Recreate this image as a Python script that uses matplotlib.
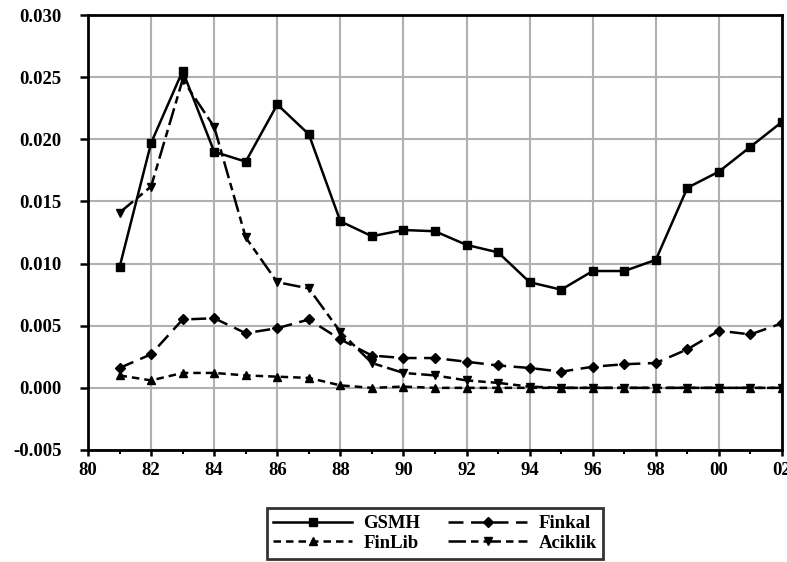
import numpy as np
import matplotlib as mpl
mpl.use('Agg')
import matplotlib.pyplot as plt
from matplotlib.ticker import MultipleLocator, FormatStrFormatter

# yearly series, 1981-2002
years = list(range(81, 103))
gsmh = [0.0097, 0.0197, 0.0255, 0.0190, 0.0182, 0.0228, 0.0204, 0.0134, 0.0122, 0.0127, 0.0126,
        0.0115, 0.0109, 0.0085, 0.0079, 0.0094, 0.0094, 0.0103, 0.0161, 0.0174, 0.0194, 0.0214]
finkal = [0.0016, 0.0027, 0.0055, 0.0056, 0.0044, 0.0048, 0.0055, 0.0039, 0.0026, 0.0024, 0.0024,
          0.0021, 0.0018, 0.0016, 0.0013, 0.0017, 0.0019, 0.0020, 0.0031, 0.0046, 0.0043, 0.0052]
finlib = [0.0010, 0.0006, 0.0012, 0.0012, 0.0010, 0.0009, 0.0008, 0.0002, 0.0000, 0.0001, 0.0000,
          0.0000, 0.0000, 0.0000, 0.0000, 0.0000, 0.0000, 0.0000, 0.0000, 0.0000, 0.0000, 0.0000]
aciklik = [0.0141, 0.0162, 0.0248, 0.0210, 0.0121, 0.0085, 0.0080, 0.0045, 0.0020, 0.0012, 0.0010,
           0.0006, 0.0004, 0.0001, 0.0000, 0.0000, 0.0000, 0.0000, 0.0000, 0.0000, 0.0000, 0.0000]
xticklabels = ['80', '82', '84', '86', '88', '90', '92', '94', '96', '98', '00', '02']

plt.rcParams['font.family'] = ['Liberation Serif', 'DejaVu Serif']
plt.rcParams['font.weight'] = 'bold'

fig = plt.figure(figsize=(7.87, 5.62), dpi=100)
ax = fig.add_axes([0.1118, 0.1993, 0.8819, 0.774])

k = dict(color='black', lw=1.8, markersize=6)
l1, = ax.plot(years, gsmh, '-', marker='s', **k)
l2, = ax.plot(years, finlib, marker='^', dashes=(3, 2), **k)
l3, = ax.plot(years, finkal, marker='D', markersize=5.5, color='black', lw=1.8, dashes=(6, 3))
l4, = ax.plot(years, aciklik, marker='v', dashes=(7, 2, 3, 2), **k)

ax.set_xlim(80, 102)
ax.set_ylim(-0.005, 0.030)
ax.xaxis.set_minor_locator(MultipleLocator(1))
ax.set_xticks(range(80, 103, 2))
ax.set_xticklabels(xticklabels)
ax.yaxis.set_major_locator(MultipleLocator(0.005))
ax.yaxis.set_major_formatter(FormatStrFormatter('%.3f'))
ax.grid(True, color='#b0b0b0', lw=1.5)
ax.set_axisbelow(True)
for s in ax.spines.values():
    s.set_linewidth(2)
ax.tick_params(labelsize=13.5, width=1.8)
ax.tick_params(axis='y', length=6, pad=13)
ax.tick_params(axis='x', length=4, pad=5)
ax.tick_params(which='minor', width=1.5, length=3)

fig.legend([l1, l2, l3, l4], ['GSMH', 'FinLib', 'Finkal', 'Aciklik'], ncol=2,
           loc='center', bbox_to_anchor=(435 / 787, 1 - 533.5 / 562), frameon=True, fancybox=False,
           edgecolor='black', fontsize=13.5, handlelength=4.2, columnspacing=1.5,
           borderpad=0.35, labelspacing=0.15, handletextpad=0.6, borderaxespad=0)
fig.legends[0].get_frame().set_linewidth(2)

plt.savefig('out.png', dpi=100)
